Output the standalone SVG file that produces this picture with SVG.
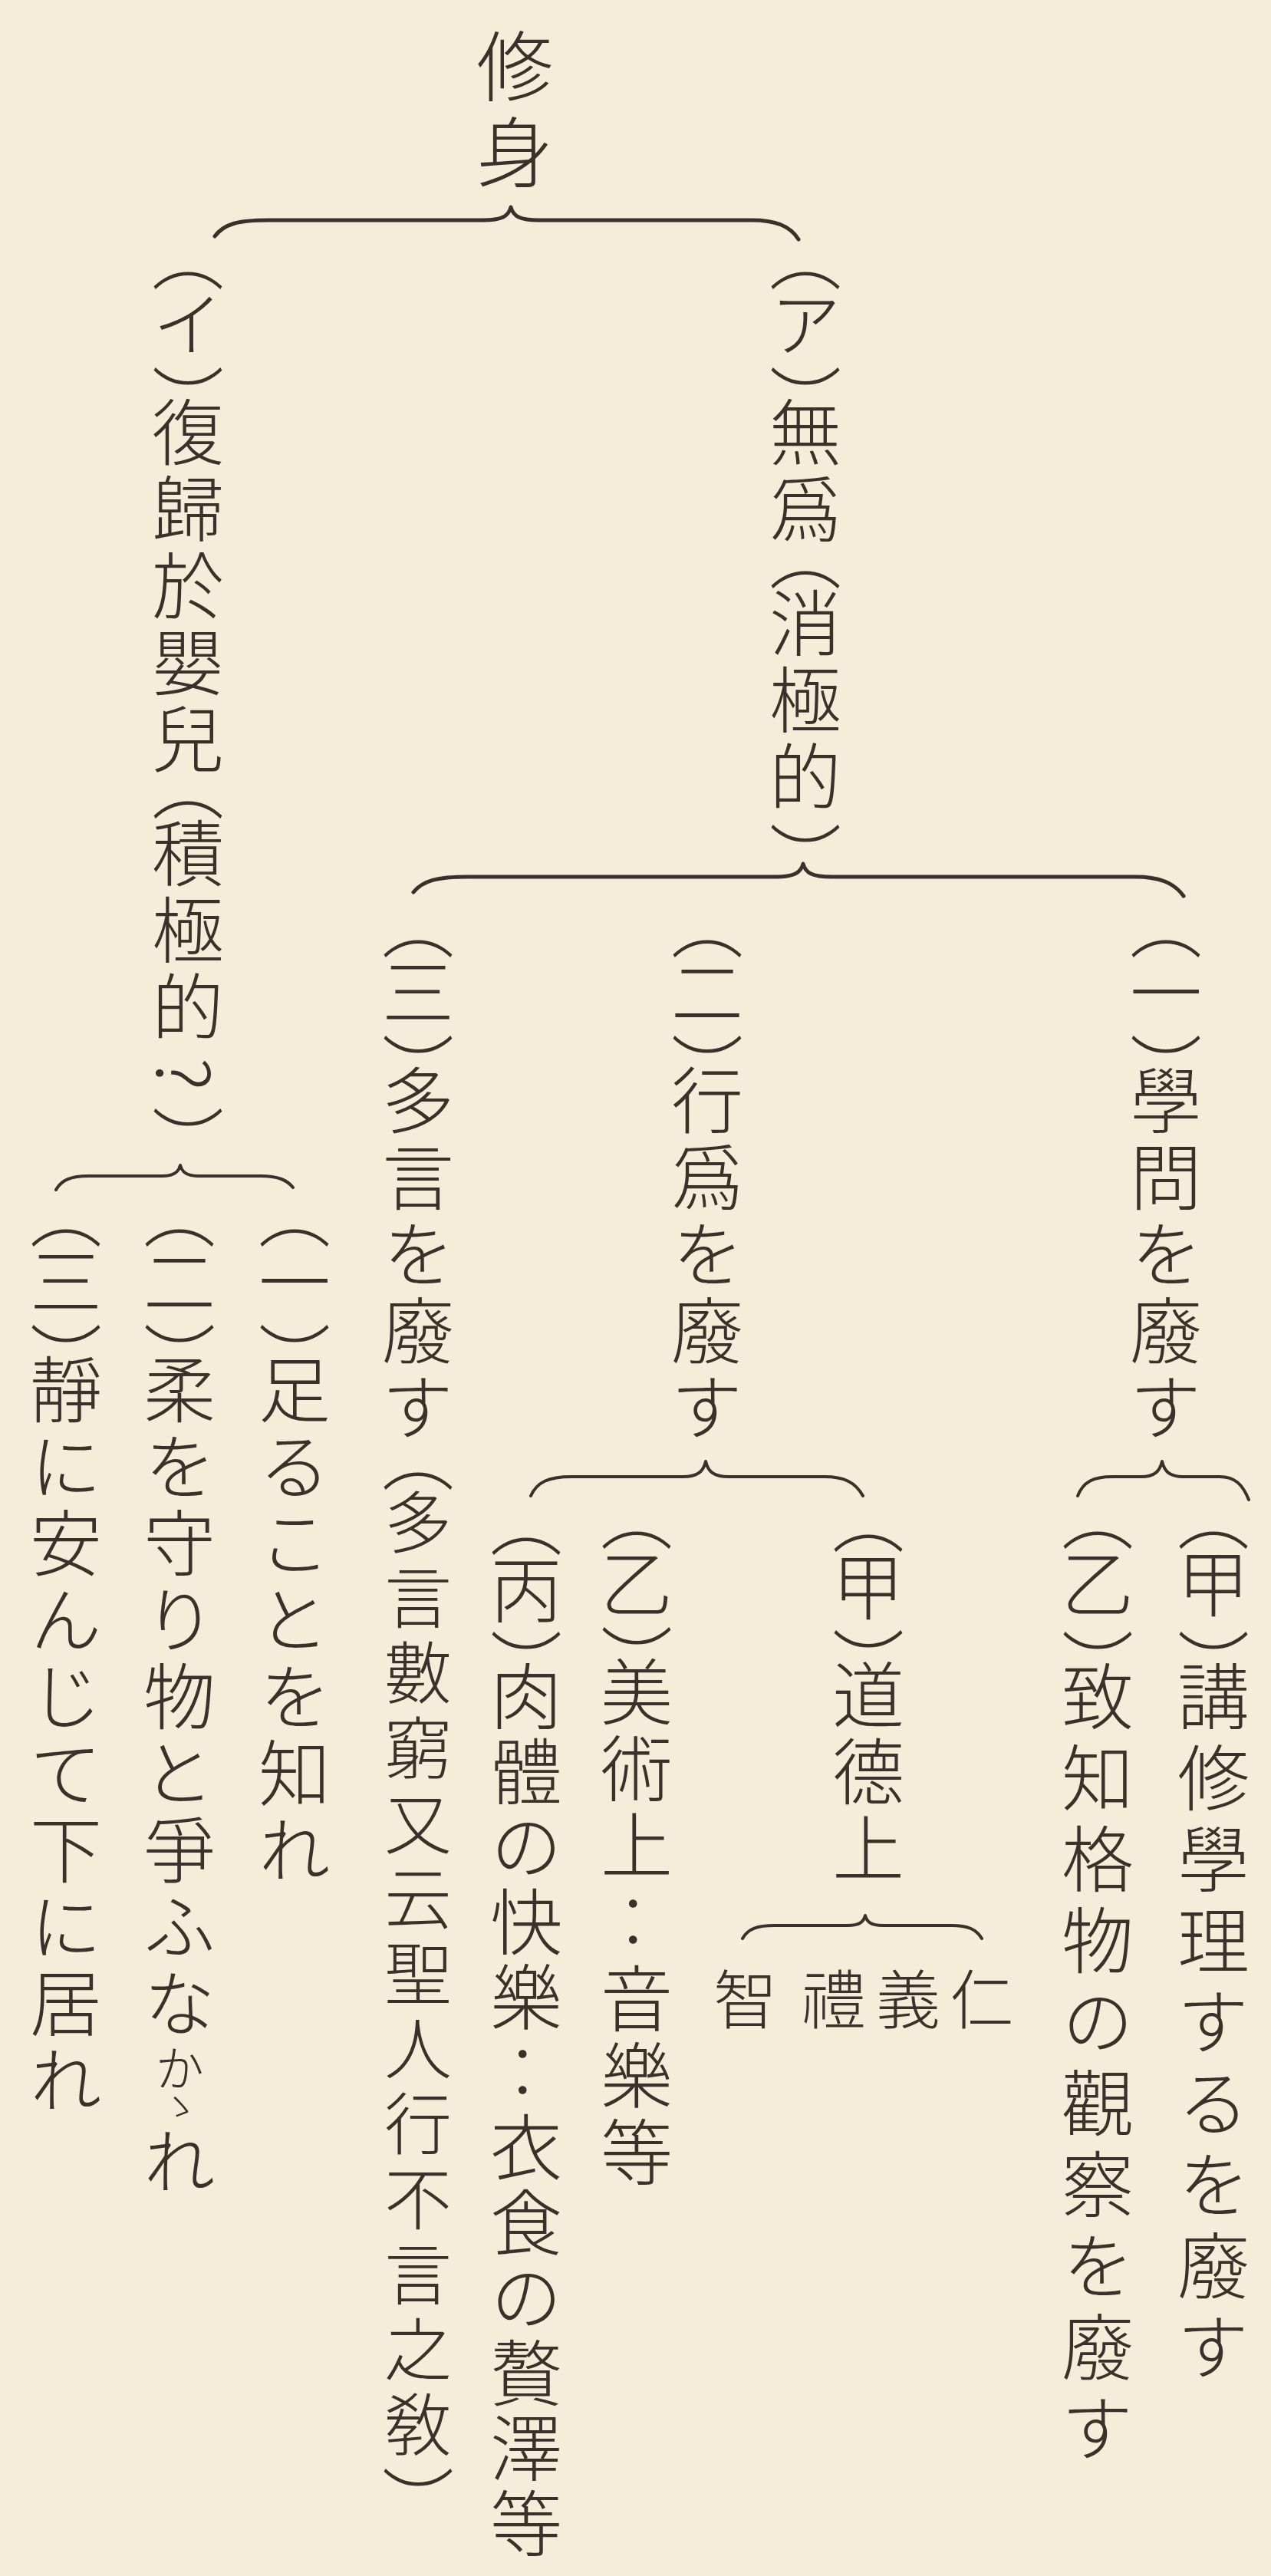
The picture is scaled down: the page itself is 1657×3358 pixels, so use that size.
<svg xmlns="http://www.w3.org/2000/svg" width="1657" height="3358" viewBox="0 0 1657 3358">
<style>
text { font-family: "Noto Sans CJK JP", "Noto Sans CJK SC", sans-serif; font-weight: 300; font-size: 94px; letter-spacing: 6px; writing-mode: vertical-rl; fill: #3b302a; }
.p { font-feature-settings: "vhal" 1; letter-spacing: -6px; }
.big { font-size: 100px; letter-spacing: 12px; }
.sm { font-size: 84px; }
.par { font-size: 88px; letter-spacing: 10px; }
.wide { letter-spacing: 12px; }
.ka { font-size: 64px; letter-spacing: -8px; }
.it { font-size: 50px; letter-spacing: 0px; }
.brace { fill: none; stroke: #3b302a; stroke-width: 5; stroke-linecap: round; stroke-linejoin: round; }
.brace2 { fill: none; stroke: #3b302a; stroke-width: 4; stroke-linecap: round; stroke-linejoin: round; }
</style>
<rect x="0" y="0" width="1657" height="3358" fill="#f5edda"/>

<g id="connectors">
  <path class="brace" d="M280,308 C292,292 310,287 350,287 L630,287 C654,287 663,282 666,270 C669,282 678,287 702,287 L980,287 C1010,287 1030,294 1041,312"/>
  <path class="brace" d="M539,1163 C551,1148 570,1143 610,1143 L1010,1143 C1035,1143 1044,1138 1047,1126 C1050,1138 1059,1143 1084,1143 L1480,1143 C1510,1143 1530,1150 1543,1168"/>
  <path class="brace2" d="M1405,1950 C1412,1932 1425,1925 1450,1925 L1488,1925 C1505,1925 1512,1918 1515,1905 C1518,1918 1525,1925 1542,1925 L1590,1925 C1610,1925 1620,1935 1628,1955"/>
  <path class="brace2" d="M692,1950 C700,1932 715,1925 745,1925 L890,1925 C910,1925 917,1918 920,1905 C923,1918 930,1925 950,1925 L1075,1925 C1100,1925 1115,1932 1125,1950"/>
  <path class="brace2" d="M968,2527 C975,2514 988,2510 1010,2510 L1105,2510 C1121,2510 1126,2505 1128,2497 C1130,2505 1135,2510 1151,2510 L1240,2510 C1262,2510 1273,2515 1280,2527"/>
  <path class="brace2" d="M73,1551 C80,1538 93,1533 115,1533 L212,1533 C228,1533 233,1527 235,1519 C237,1527 242,1533 258,1533 L340,1533 C362,1533 374,1538 382,1548"/>
</g>

<g id="n-shushin"><text class="big" x="671" y="36">修身</text></g>

<g id="n-a"><text x="1050" y="334"><tspan class="p">（</tspan>ア<tspan class="p">）</tspan>無爲<tspan class="p" dy="8">（</tspan>消極的<tspan class="p" dy="6">）</tspan></text></g>

<g id="n-i"><text x="245" y="334"><tspan class="p">（</tspan>イ<tspan class="p">）</tspan>復歸於嬰兒<tspan class="p" dy="8">（</tspan>積極的<tspan dy="14">?</tspan><tspan class="p" dy="14">）</tspan></text></g>

<g id="n-a1"><text x="1520" y="1205"><tspan class="p">（</tspan>一<tspan class="p">）</tspan>學問を廢す</text></g>

<g id="n-a2"><text x="922" y="1205"><tspan class="p">（</tspan>二<tspan class="p">）</tspan>行爲を廢す</text></g>

<g id="n-a3"><text x="545" y="1205"><tspan class="p">（</tspan>三<tspan class="p">）</tspan>多言を廢す<tspan class="p" dy="12">（</tspan><tspan class="par">多言數窮又云聖人行不言之敎</tspan><tspan class="p">）</tspan></text></g>

<g id="n-a1-1"><text class="wide" x="1582" y="1976"><tspan class="p">（</tspan>甲<tspan class="p">）</tspan>講修學理するを廢す</text></g>

<g id="n-a1-2"><text class="wide" x="1431" y="1976"><tspan class="p">（</tspan>乙<tspan class="p">）</tspan>致知格物の觀察を廢す</text></g>

<g id="n-a2-1"><text x="1132" y="1980"><tspan class="p">（</tspan>甲<tspan class="p">）</tspan>道德上</text></g>

<g id="n-jin"><text class="sm" x="1280" y="2564">仁</text></g>
<g id="n-gi"><text class="sm" x="1184" y="2564">義</text></g>
<g id="n-rei"><text class="sm" x="1087" y="2564">禮</text></g>
<g id="n-chi"><text class="sm" x="972" y="2564">智</text></g>

<g id="n-a2-2"><text x="830" y="1976"><tspan class="p">（</tspan>乙<tspan class="p">）</tspan>美術上‥音樂等</text></g>

<g id="n-a2-3"><text x="686" y="1984" style="letter-spacing:4px"><tspan class="p">（</tspan>丙<tspan class="p">）</tspan>肉體の快樂‥衣食の贅澤等</text></g>

<g id="n-i1"><text x="384" y="1582"><tspan class="p">（</tspan>一<tspan class="p">）</tspan>足ることを知れ</text></g>

<g id="n-i2"><text x="234" y="1582"><tspan class="p">（</tspan>二<tspan class="p">）</tspan>柔を守り物と爭ふな<tspan class="ka">か</tspan><tspan class="it">ゝ</tspan>れ</text></g>

<g id="n-i3"><text x="86" y="1582"><tspan class="p">（</tspan>三<tspan class="p">）</tspan>靜に安んじて下に居れ</text></g>
</svg>
